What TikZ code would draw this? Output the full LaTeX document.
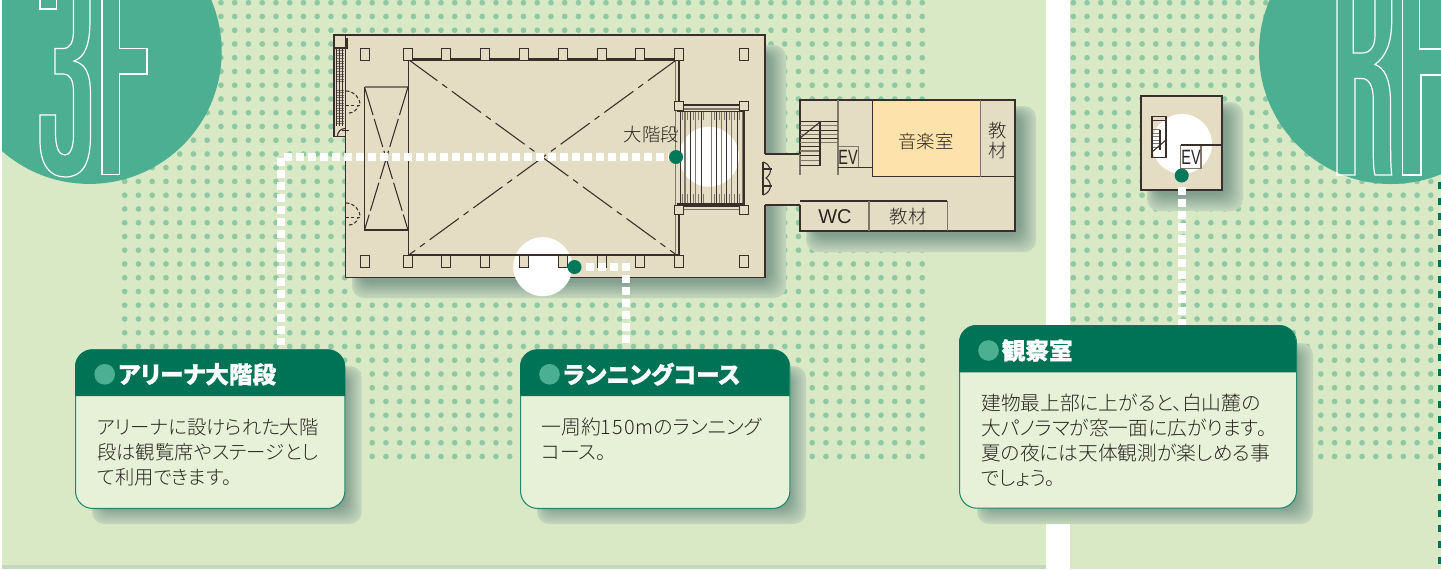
\documentclass[tikz,border=0pt]{standalone}
\usepackage{fontspec}
\IfFontExistsTF{Noto Sans CJK JP Light}
  {\setmainfont[RawFeature=+palt]{Noto Sans CJK JP Light}}
  {\setmainfont[RawFeature=+palt]{Noto Sans CJK JP}}
\newfontfamily\titlef[RawFeature=+palt,BoldFeatures={FakeBold=1}]{Noto Sans CJK JP}
\newfontfamily\latinf{Liberation Sans}
\definecolor{panel}{HTML}{D9E9C5}
\definecolor{strip}{HTML}{C3D9BB}
\definecolor{dotc}{HTML}{8EC9A4}
\definecolor{disc}{HTML}{4CAF92}
\definecolor{shlight}{HTML}{C3D6BC}
\definecolor{shdark}{HTML}{84A090}
\definecolor{floorc}{HTML}{E5DDC3}
\definecolor{wallc}{HTML}{3A2E2A}
\definecolor{grayc}{HTML}{7F786A}
\definecolor{musicc}{HTML}{FDE3AB}
\definecolor{hdrc}{HTML}{007357}
\definecolor{bodyc}{HTML}{E7F1D8}
\definecolor{edgec}{HTML}{1F8A6C}
\definecolor{dotg}{HTML}{00795A}
\definecolor{inkc}{HTML}{2A2522}
\newcommand{\softshade}[4]{%
  \foreach \i in {0,1,...,16}{%
    \pgfmathtruncatemacro\p{\i*100/16}%
    \fill[shdark!\p!shlight,rounded corners=9pt]
      ({#1+\i*0.5},{#2+\i*0.5}) rectangle ({#3-\i},{#4-\i});
  }}
\newcommand{\evlabel}{\latinf\fontsize{15.5}{15.5}\selectfont\scalebox{0.7}[1]{EV}}
\tikzset{
  wall/.style={draw=wallc,line width=1.3pt},
  heavy/.style={draw=wallc,line width=1.7pt},
  thinwall/.style={draw=wallc,line width=0.8pt},
  graywall/.style={draw=grayc,line width=0.9pt},
  outlinefig/.style={draw=white,line width=0.9pt},
  whitedash/.style={draw=white,line width=6.2pt,dash pattern=on 6pt off 3pt},
  routedot/.style={circle,fill=dotg,minimum size=10.5pt,inner sep=0pt},
  spot/.style={fill=white},
  pillar/.style={draw=wallc,fill=floorc,line width=0.7pt},
  cardbody/.style={draw=edgec,fill=bodyc,line width=0.8pt,rounded corners=13pt,anchor=north west,inner sep=0pt},
  cardhead/.style={fill=hdrc},
  cardtitle/.style={text=white,font=\titlef\bfseries\fontsize{17.7}{20}\selectfont,anchor=west,inner sep=0pt},
  cardtext/.style={text=inkc,font=\fontsize{14.5}{18.75}\selectfont,align=left,anchor=west,inner sep=0pt},
  bullet/.style={circle,fill=disc,minimum size=15.5pt,inner sep=0pt},
  roomlabel/.style={text=inkc,font=\fontsize{13.8}{14.4}\selectfont,inner sep=0pt,align=center},
}
\begin{document}
\begin{tikzpicture}[x=0.75pt,y=-0.75pt]
\useasboundingbox (0,0) rectangle (1441,569);
\fill[white] (0,0) rectangle (1441,569);
\fill[panel] (2,0) rectangle (1046,569);
\fill[strip] (2,564.5) rectangle (1046,569);
\fill[panel] (1070,0) rectangle (1441,569);
% dot screens
\fill[dotc] \foreach \i in {0,...,58}{\foreach \j in {0,...,33}{
  ({124.7+13.75*\i},{2.7+13.75*\j}) circle[radius=2.85]}};
\fill[dotc] \foreach \i in {0,...,26}{\foreach \j in {0,...,33}{
  ({1073.3+13.75*\i},{2.7+13.75*\j}) circle[radius=2.85]}};
% dotted right edge
\foreach \k in {0,...,24}{\fill[hdrc] (1438.3,{182.2+15.6*\k}) rectangle (1441,{189.2+15.6*\k});}
% floor discs
\begin{scope}
\clip (2,0) rectangle (1046,569);
\fill[disc] (89.3,51.5) circle[radius=132.4];
\draw[outlinefig] (40,-2) -- (40,9) -- (56.7,9) -- (56.7,-2);
\draw[outlinefig,line join=miter] (73.5,-2) -- (73.5,30) .. controls (73.5,43) and (70,48.5) .. (63,48.5) -- (55,48.5) -- (55,74) -- (63,74)
  .. controls (70,74) and (73.5,80) .. (73.5,92) -- (73.5,135) .. controls (73.5,148) and (70,155) .. (65,155)
  .. controls (59,155) and (55.5,148) .. (55.5,132) -- (55.5,115) -- (40,115) -- (40,140)
  .. controls (40,165) and (50,177) .. (65,177) .. controls (82,177) and (90.5,165) .. (90.5,135) -- (90.5,95)
  .. controls (90.5,72) and (85,64) .. (74,61) .. controls (85,57) and (90,45) .. (90,20) -- (90,-2);
\draw[outlinefig] (102,-2) -- (102,174.7) -- (119.7,174.7) -- (119.7,74) -- (147,74) -- (147,48.7) -- (119.7,48.7) -- (119.7,-2);
\end{scope}
\begin{scope}
\clip (1070,0) rectangle (1441,569);
\fill[disc] (1391,52) circle[radius=132];
\draw[outlinefig] (1337,-2) -- (1337,175) -- (1355,175) -- (1355,78.5) -- (1361.7,78.5) .. controls (1369,78.5) and (1373.3,86) .. (1373.3,100)
  -- (1373.3,155) .. controls (1373.3,165) and (1374,172) .. (1375,175) -- (1391.7,175) .. controls (1390.5,165) and (1390.5,150) .. (1390.5,100)
  .. controls (1390,80) and (1385,68) .. (1375,64.5) .. controls (1385,57) and (1391.7,45) .. (1391.7,20) -- (1391.7,-2);
\draw[outlinefig] (1353.3,-2) -- (1353.3,53) -- (1362,53) .. controls (1370,53) and (1375,47) .. (1375,35) -- (1375,-2);
\draw[outlinefig] (1402.3,-2) -- (1402.3,175) -- (1421,175) -- (1421,75) -- (1445,75);
\draw[outlinefig] (1445,49) -- (1419.5,49) -- (1419.5,-2);
\end{scope}
% shadows
\softshade{352}{45}{786}{298}
\softshade{806}{106}{1036}{252}
\softshade{1147}{102}{1243}{211}
\softshade{92}{366}{361.7}{524}
\softshade{537}{366}{806}{524}
\softshade{977}{343}{1313}{524}
% floors
\fill[floorc] (345.5,35) rectangle (765,277.5);
\fill[floorc] (760,154) rectangle (805,205);
\fill[floorc] (800,100) rectangle (1015,231);
\fill[floorc] (1141,96) rectangle (1222,190);
\draw[wall] (765,154) -- (765,35) -- (345.5,35) -- (345.5,277.5) -- (765,277.5) -- (765,205);
\draw[thinwall] (765,154) -- (800,154);
\draw[thinwall] (765,205) -- (800,205);
\draw[wall] (800,154) -- (800,100) -- (1015,100) -- (1015,231) -- (800,231) -- (800,205);
\draw[wall] (1141,96) rectangle (1222,190);
% highlight spots
\fill[spot] (709,156.7) circle[radius=30];
\fill[spot] (542.7,266.7) circle[radius=29.5];
\fill[spot] (1182,144) circle[radius=30];
% left stair block
\fill[floorc] (334,35) rectangle (345,136.5);
\foreach \y in {48,50.6,...,82}{\draw[graywall,line width=0.55pt] (335.5,\y) -- (344,\y);}
\foreach \y in {90,92.6,...,126}{\draw[graywall,line width=0.55pt] (335.5,\y) -- (344,\y);}
\draw[thinwall,line width=0.5pt] (339.5,48) -- (339.5,126);
\draw[thinwall] (336.8,48) -- (336.8,126);
\draw[thinwall] (342.5,48) -- (342.5,126);
\draw[wall] (345.5,136.5) -- (334,136.5) -- (334,35) -- (345.5,35);
\draw[thinwall] (334,48) -- (345,48);
\draw[heavy] (346.8,38) -- (346.8,49);
\draw[thinwall] (337.5,136) arc[start angle=180,end angle=270,radius=7.5];
\draw[thinwall] (342,130.5) -- (349,130.5);
% dashed doors
\foreach \dy in {0,112}{
  \draw[thinwall,dashed,dash pattern=on 2.6pt off 1.6pt] (346,{91+\dy}) arc[start angle=-90,end angle=0,radius=14];
  \draw[thinwall,dash pattern=on 2.6pt off 1.6pt] (360,{105.5+\dy}) -- (346,{105.5+\dy});
  \draw[thinwall,dash pattern=on 2.6pt off 1.6pt] (349,{113+\dy}) .. controls (353,{113+\dy}) and (357,{110+\dy}) .. (358,{106+\dy});
}
% stage annex rectangle
\draw[graywall,line width=1.4pt] (364.5,87) -- (408,87);
\draw[thinwall] (364.5,87) -- (364.5,230) -- (408,230);
\draw[thinwall,dash pattern=on 22pt off 3pt] (364.5,87) -- (408,230);
\draw[thinwall,dash pattern=on 22pt off 3pt] (408,87) -- (364.5,230);
% hall
\draw[thinwall] (408.3,59.5) -- (408.3,255.3);
\draw[thinwall,dash pattern=on 27pt off 4.5pt on 4.5pt off 4.5pt] (408.3,59.5) -- (677,255.3);
\draw[thinwall,dash pattern=on 27pt off 4.5pt on 4.5pt off 4.5pt] (677,59.5) -- (408.3,255.3);
\draw[graywall] (675.3,59.5) -- (675.3,255.3);
\draw[heavy] (679,59.5) -- (679,103);
\draw[heavy] (679,207) -- (679,255.3);
\draw[heavy] (408.3,59.5) -- (680,59.5);
\draw[heavy] (408.3,255.3) -- (680,255.3);
% pillars
\foreach \x in {364.7,407.5,446.3,485.1,523.9,562.7,601.5,640.3,679.1,744}{
  \draw[pillar] ({\x-4.5},48.5) rectangle ({\x+4.5},60.5);
  \draw[pillar] ({\x-4.5},255.3) rectangle ({\x+4.5},267.3);
}
% grand stair
\foreach \x [count=\n] in {680,685,690,695.7,701,711.7,716.7,721.7,726.7,731.7,737.3,742.3}{
  \ifodd\n \draw[thinwall,line width=0.75pt] (\x,111) -- (\x,204);
  \else \draw[graywall] (\x,111) -- (\x,204); \fi
}
\foreach \x in {682.5,687.5,693,698.4,703,714.2,719.2,724.2,729.2,734.5,739.8}{
  \draw[graywall,line width=0.7pt] (\x,111) -- (\x,120);
  \draw[graywall,line width=0.7pt] (\x,194) -- (\x,204);
}
\draw[thinwall] (677,111.5) -- (744,111.5);
\draw[thinwall] (677,204) -- (744,204);
\draw[heavy] (681,105) -- (741,105);
\draw[graywall] (681,109) -- (741,109);
\draw[heavy] (681,206) -- (741,206);
\draw[graywall] (683,209.5) -- (741,209.5);
\draw[heavy] (744,111) -- (744,205);
\draw[pillar] (674.5,101.5) rectangle (683.3,110);
\draw[pillar] (739.5,101.5) rectangle (748.3,110.5);
\draw[pillar] (674.5,205) rectangle (683.3,214);
\draw[pillar] (739.5,205) rectangle (748.3,214);
% corridor doors
\draw[thinwall] (763,161.7) -- (763,195);
\draw[thinwall] (763,162) .. controls (770,164) and (774,172) .. (766,178) .. controls (774,184) and (770,193) .. (763,195);
\draw[thinwall] (763,169) -- (772,169);
\draw[thinwall] (763,186) -- (772,186);
% wing rooms
\fill[musicc] (872.3,100.7) rectangle (980.7,176.5);
\draw[graywall] (800,154) -- (800,175);
\draw[graywall] (838,100) -- (838,175);
\draw[thinwall] (872.3,100) -- (872.3,176.5);
\draw[thinwall] (872.3,176.5) -- (1015,176.5);
\draw[graywall] (980.7,100) -- (980.7,176.5);
\draw[thinwall] (838,167.3) -- (872.3,167.3);
\draw[graywall] (838,146.7) -- (858.3,146.7) -- (858.3,167.3);
\draw[wall,line width=0.9pt] (800,201) -- (947.3,201);
\draw[graywall] (869,201) -- (869,231);
\draw[graywall] (947.3,201) -- (947.3,231);
\foreach \y [count=\n] in {121,125.3,130,134.3,138.3,142.3}{
  \ifodd\n \draw[thinwall,line width=0.6pt] (800,\y) -- (838,\y);
  \else \draw[graywall] (800,\y) -- (838,\y); \fi
}
\foreach \y [count=\n] in {146.7,151,155.7,160.7,165}{
  \ifodd\n \draw[thinwall,line width=0.6pt] (800,\y) -- (820,\y);
  \else \draw[graywall] (800,\y) -- (820,\y); \fi
}
\draw[thinwall] (820,121.7) -- (820,166);
\draw[thinwall] (800,138) -- (820,122);
% room labels
\node[roomlabel] (music) at (926,141.5) {音楽室};
\node[roomlabel] (matA) at (998,140.5) {教\\[0pt]材};
\node[roomlabel] (matB) at (908,216.5) {教材};
\node[roomlabel,font=\latinf\fontsize{15}{15}\selectfont] (wc) at (835,216.5) {WC};
\node[inner sep=0pt,text=inkc] (evA) at (848,157) {\evlabel};
\node[roomlabel] (stairname) at (651.5,135) {大階段};
% roof block interior
\draw[thinwall] (1152,116.5) rectangle (1166,157.3);
\draw[thinwall] (1152,120.5) -- (1166,120.5);
\foreach \y in {129.5,133,136.5,140,143.5,147}{\draw[graywall,line width=0.7pt] (1153,\y) -- (1160,\y);}
\draw[thinwall] (1160,129.5) -- (1160,150);
\draw[thinwall] (1152,152) -- (1166,140);
\draw[graywall] (1180.7,145) -- (1180.7,168.3) -- (1201,168.3) -- (1201,145);
\draw[thinwall] (1180.7,145) -- (1222,145);
\node[inner sep=0pt,text=inkc] (evB) at (1191,157) {\evlabel};
% route dots
\node[routedot] (dotA) at (676,157) {};
\node[routedot] (dotB) at (574.5,267) {};
\node[routedot] (dotC) at (1181.7,175.5) {};
% route connectors
\coordinate (endA) at (281,345);
\coordinate (endB) at (626,345);
\coordinate (endC) at (1181.7,326);
\draw[whitedash,dash phase=5.25pt] (dotA.west) -| (endA);
\draw[whitedash,dash phase=6pt] (dotB.east) -| (endB);
\draw[whitedash,dash phase=6pt] (dotC.south) -- (endC);
% cards
\node[cardbody,minimum width=202pt,minimum height=119pt] (cardA) at (75,349.3) {};
\fill[cardhead] (75,396) [rounded corners=13pt] -- (75,349.3) -- (345,349.3) [sharp corners] -- (345,396) -- cycle;
\node[bullet] (bulA) at (104.7,374.3) {};
\node[cardtitle] (titleA) at (118,374.3) {アリーナ大階段};
\node[cardtext] (textA) at (97,451.8) {アリーナに設けられた大階\\段は観覧席やステージとし\\て利用できます。};

\node[cardbody,minimum width=202pt,minimum height=119pt] (cardB) at (520,349.3) {};
\fill[cardhead] (520,396) [rounded corners=13pt] -- (520,349.3) -- (789.5,349.3) [sharp corners] -- (789.5,396) -- cycle;
\node[bullet] (bulB) at (549.5,374.3) {};
\node[cardtitle] (titleB) at (563,374.3) {ランニングコース};
\node[cardtext,font=\fontsize{14.9}{18.75}\selectfont] (textB) at (541,439) {一周約1\hspace{0.8pt}5\hspace{0.8pt}0\hspace{0.8pt}mのランニング\\コース。};

\node[cardbody,minimum width=252.75pt,minimum height=137pt] (cardC) at (959,325) {};
\fill[cardhead] (959,372.3) [rounded corners=13pt] -- (959,325) -- (1296,325) [sharp corners] -- (1296,372.3) -- cycle;
\node[bullet] (bulC) at (988.5,350.5) {};
\node[cardtitle] (titleC) at (1001.5,350.5) {観察室};
\node[cardtext,font=\fontsize{14.8}{18.75}\selectfont] (textC) at (981,440) {建物最上部に上がると、白山麓の\\大パノラマが窓一面に広がります。\\夏の夜には天体観測が楽しめる事\\でしょう。};
\end{tikzpicture}
\end{document}
